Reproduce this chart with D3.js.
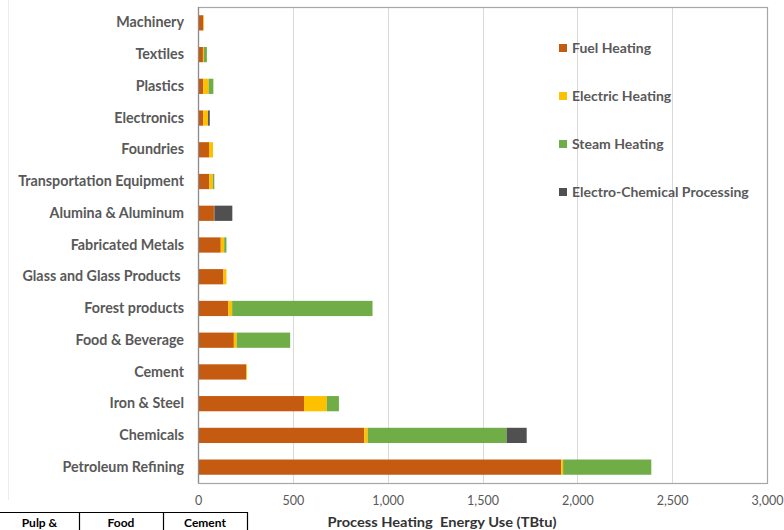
<!DOCTYPE html>
<html>
<head>
<meta charset="utf-8">
<script src="https://cdn.jsdelivr.net/npm/d3@7"></script>
<style>
  html, body { margin: 0; padding: 0; background: #ffffff; }
  svg { display: block; }
  text { font-family: Lato, "Open Sans", sans-serif; }
</style>
</head>
<body>
<svg id="chart" width="784" height="530"></svg>
<script>
// ---- data ----
const categories = ["Machinery","Textiles","Plastics","Electronics","Foundries","Transportation Equipment","Alumina & Aluminum","Fabricated Metals","Glass and Glass Products ","Forest products","Food & Beverage","Cement","Iron & Steel","Chemicals","Petroleum Refining"];
const fuelHeating     = [28, 26, 28, 28, 58, 60, 84, 120, 134, 160, 189, 253, 559, 876, 1915];
const electricHeating = [3, 5, 28, 25, 21, 18, 2, 18, 16, 20, 15, 5, 120, 19, 10];
const steamHeating    = [0, 16, 25, 0, 0, 8, 0, 12, 0, 740, 282, 0, 64, 732, 465];
const electroChemical = [0, 0, 0, 9, 0, 0, 95, 0, 0, 0, 0, 0, 0, 106, 0];
const seriesNames = ["Fuel Heating","Electric Heating","Steam Heating","Electro-Chemical Processing"];
const xTicks = [0, 500, 1000, 1500, 2000, 2500, 3000];
const axisTitle = "Process Heating  Energy Use (TBtu)";
const tableHeaders = ["Pulp &", "Food", "Cement"];

(function () {
// ---- layout ----
const colors = ["#c55a11", "#ffc000", "#70ad47", "#505050"];
const svg = d3.select("#chart");
const pLeft = 198, pRight = 767, pTop = 7, pBottom = 483;

const rows = categories.map((c, i) => ({
  cat: c,
  "Fuel Heating": fuelHeating[i],
  "Electric Heating": electricHeating[i],
  "Steam Heating": steamHeating[i],
  "Electro-Chemical Processing": electroChemical[i]
}));

const x = d3.scaleLinear().domain([0, 3000]).range([pLeft, pRight]);
const y = d3.scaleBand().domain(categories).range([pTop, pBottom]).paddingInner(0.52).paddingOuter(0.26);
const color = d3.scaleOrdinal().domain(seriesNames).range(colors);

// faint chart-area frame line
svg.append("line").attr("x1", 8.5).attr("x2", 8.5).attr("y1", 0).attr("y2", 500)
  .attr("stroke", "#ececec").attr("stroke-width", 1);

// gridlines
svg.append("g").selectAll("line").data(xTicks.slice(1, -1)).join("line")
  .attr("x1", d => Math.round(x(d)) + 0.5).attr("x2", d => Math.round(x(d)) + 0.5)
  .attr("y1", pTop).attr("y2", pBottom)
  .attr("stroke", "#d9d9d9").attr("stroke-width", 1);

// plot border
svg.append("rect").attr("x", pLeft + 0.5).attr("y", pTop + 0.5)
  .attr("width", pRight - pLeft).attr("height", pBottom - pTop)
  .attr("fill", "none").attr("stroke", "#a6a6a6").attr("stroke-width", 1.2);

// stacked bars
const stacked = d3.stack().keys(seriesNames)(rows);
svg.append("g").selectAll("g").data(stacked).join("g")
  .attr("fill", d => color(d.key))
  .selectAll("rect").data(d => d).join("rect")
  .attr("x", d => x(d[0]))
  .attr("width", d => Math.max(0, x(d[1]) - x(d[0])))
  .attr("y", d => y(d.data.cat))
  .attr("height", y.bandwidth());

// vertical axis line
svg.append("line").attr("x1", pLeft + 0.5).attr("x2", pLeft + 0.5).attr("y1", pTop).attr("y2", pBottom)
  .attr("stroke", "#8c8c8c").attr("stroke-width", 1.2);

// category labels
const yAxis = d3.axisLeft(y).tickSize(0).tickPadding(14);
const gy = svg.append("g").attr("transform", `translate(${pLeft},0)`).call(yAxis);
gy.select(".domain").remove();
gy.selectAll("text")
  .attr("font-family", "Lato, sans-serif").attr("font-size", 14.3).attr("font-weight", "bold")
  .attr("fill", "#595959").style("white-space", "pre");

// x axis tick labels
const xAxis = d3.axisBottom(x).tickValues(xTicks).tickFormat(d3.format(",")).tickSize(0).tickPadding(13);
const gx = svg.append("g").attr("transform", `translate(0,${pBottom})`).call(xAxis);
gx.select(".domain").remove();
gx.selectAll("text")
  .attr("font-family", "Lato, sans-serif").attr("font-size", 12.5)
  .attr("fill", "#595959");

// axis title
svg.append("text").attr("x", 442).attr("y", 527).attr("text-anchor", "middle")
  .attr("font-size", 14).attr("font-weight", "bold").attr("fill", "#333333")
  .attr("textLength", 229).attr("lengthAdjust", "spacingAndGlyphs")
  .style("white-space", "pre")
  .text(axisTitle);

// legend
const legend = svg.append("g").selectAll("g").data(seriesNames).join("g")
  .attr("transform", (d, i) => `translate(559,${48 + i * 48})`);
legend.append("rect").attr("x", 0).attr("y", -4).attr("width", 8).attr("height", 8)
  .attr("fill", d => color(d));
legend.append("text").attr("x", 13).attr("y", 0).attr("dy", "0.35em")
  .attr("font-size", 14).attr("font-weight", "bold").attr("fill", "#595959")
  .text(d => d);

// table fragment at bottom-left
const tableX = [0, 79, 163, 247];
const tableY = 512;
const tg = svg.append("g");
tg.append("line").attr("x1", 0).attr("x2", 247).attr("y1", tableY + 0.5).attr("y2", tableY + 0.5)
  .attr("stroke", "#000").attr("stroke-width", 1.2);
tg.selectAll("line.v").data(tableX.slice(1)).join("line").attr("class", "v")
  .attr("x1", d => d + 0.5).attr("x2", d => d + 0.5).attr("y1", tableY).attr("y2", 530)
  .attr("stroke", "#000").attr("stroke-width", 1.2);
tg.selectAll("text").data(tableHeaders).join("text")
  .attr("x", (d, i) => (tableX[i] + tableX[i + 1]) / 2)
  .attr("y", 527).attr("text-anchor", "middle")
  .attr("font-size", 12).attr("font-weight", "bold").attr("fill", "#000")
  .text(d => d);
})();
</script>
</body>
</html>
